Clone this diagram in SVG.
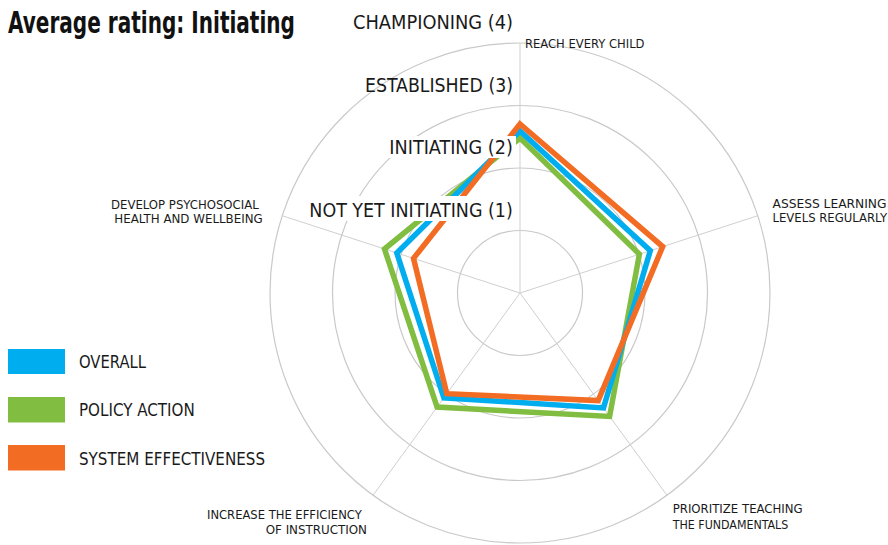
<svg xmlns="http://www.w3.org/2000/svg" width="888" height="545" viewBox="0 0 888 545">
<style>
.t{font-family:"Liberation Sans Narrow","DejaVu Sans Condensed","Liberation Sans",sans-serif;fill:#1a1a1a}
.ring{fill:none;stroke:#c9c9c9;stroke-width:1.2}
.spoke{stroke:#cfcfcf;stroke-width:1}
.s{fill:none;stroke-width:5.5;stroke-linejoin:miter;stroke-miterlimit:10}
.lvl{font-size:20px}
.ax{font-size:12.5px}
.lg{font-size:18.5px}
</style>
<rect width="888" height="545" fill="#ffffff"/>
<g id="title"><text class="t" transform="translate(8,32.5) scale(0.74,1)" x="0" y="0" font-size="30" font-weight="bold" textLength="387.8" lengthAdjust="spacingAndGlyphs" style="fill:#111">Average rating: Initiating</text></g>
<g id="grid">
<circle class="ring" cx="520" cy="293" r="62.5"/>
<circle class="ring" cx="520" cy="293" r="125"/>
<circle class="ring" cx="520" cy="293" r="187.5"/>
<circle class="ring" cx="520" cy="293" r="250"/>
<line class="spoke" x1="520" y1="293" x2="520" y2="43"/>
<line class="spoke" x1="520" y1="293" x2="757.8" y2="215.7"/>
<line class="spoke" x1="520" y1="293" x2="667" y2="495.3"/>
<line class="spoke" x1="520" y1="293" x2="373" y2="495.3"/>
<line class="spoke" x1="520" y1="293" x2="282.2" y2="215.7"/>
</g>
<g id="connectors">
<polygon id="policy" class="s" stroke="#80bd41" points="520,138 639.4,254.2 609.6,416.4 437.1,407.1 384.5,249"/>
<polygon id="overall" class="s" stroke="#00aeef" points="520,131 650.3,250.7 603.5,407.9 443.9,397.8 396.8,253"/>
<polygon id="system" class="s" stroke="#f26c23" points="520,124 662.7,246.6 598.2,400.6 446.8,393.7 413.5,258.4"/>
</g>
<g id="levels">
<text class="t lvl" x="353" y="28.5" textLength="160" lengthAdjust="spacingAndGlyphs">CHAMPIONING (4)</text>
<text class="t lvl" x="365" y="91.5" textLength="148" lengthAdjust="spacingAndGlyphs">ESTABLISHED (3)</text>
<rect x="386" y="136" width="130" height="22" fill="#fff"/>
<text class="t lvl" x="389.3" y="154.3" textLength="123.5" lengthAdjust="spacingAndGlyphs">INITIATING (2)</text>
<rect x="306" y="196" width="210" height="25" fill="#fff"/>
<text class="t lvl" x="309.3" y="216.7" textLength="203.5" lengthAdjust="spacingAndGlyphs">NOT YET INITIATING (1)</text>
</g>
<g id="axis-reach"><text class="t" x="525" y="47.5" font-size="12.5" textLength="119.5" lengthAdjust="spacingAndGlyphs">REACH EVERY CHILD</text></g>
<g id="axis-assess">
<text class="t ax" x="772.5" y="208" textLength="114" lengthAdjust="spacingAndGlyphs">ASSESS LEARNING</text>
<text class="t ax" x="772.5" y="221.5" textLength="114.5" lengthAdjust="spacingAndGlyphs">LEVELS REGULARLY</text>
</g>
<g id="axis-prioritize">
<text class="t ax" x="672.7" y="513.3" textLength="130" lengthAdjust="spacingAndGlyphs">PRIORITIZE TEACHING</text>
<text class="t ax" x="672.7" y="529" textLength="115.6" lengthAdjust="spacingAndGlyphs">THE FUNDAMENTALS</text>
</g>
<g id="axis-increase">
<text class="t ax" x="207" y="519" textLength="154.7" lengthAdjust="spacingAndGlyphs">INCREASE THE EFFICIENCY</text>
<text class="t ax" x="265.7" y="534.3" textLength="101.3" lengthAdjust="spacingAndGlyphs">OF INSTRUCTION</text>
</g>
<g id="axis-develop">
<text class="t ax" x="111" y="209" textLength="147.7" lengthAdjust="spacingAndGlyphs">DEVELOP PSYCHOSOCIAL</text>
<text class="t ax" x="114.3" y="222.5" textLength="148.4" lengthAdjust="spacingAndGlyphs">HEALTH AND WELLBEING</text>
</g>
<g id="legend">
<rect x="8" y="349" width="57" height="25" fill="#00aeef"/>
<text class="t lg" x="79" y="368.3" textLength="67" lengthAdjust="spacingAndGlyphs">OVERALL</text>
<rect x="8" y="397" width="57" height="25.5" fill="#80bd41"/>
<text class="t lg" x="79" y="416.3" textLength="115.7" lengthAdjust="spacingAndGlyphs">POLICY ACTION</text>
<rect x="8" y="445" width="57" height="25.5" fill="#f26c23"/>
<text class="t lg" x="79" y="464.8" textLength="186" lengthAdjust="spacingAndGlyphs">SYSTEM EFFECTIVENESS</text>
</g>
</svg>
